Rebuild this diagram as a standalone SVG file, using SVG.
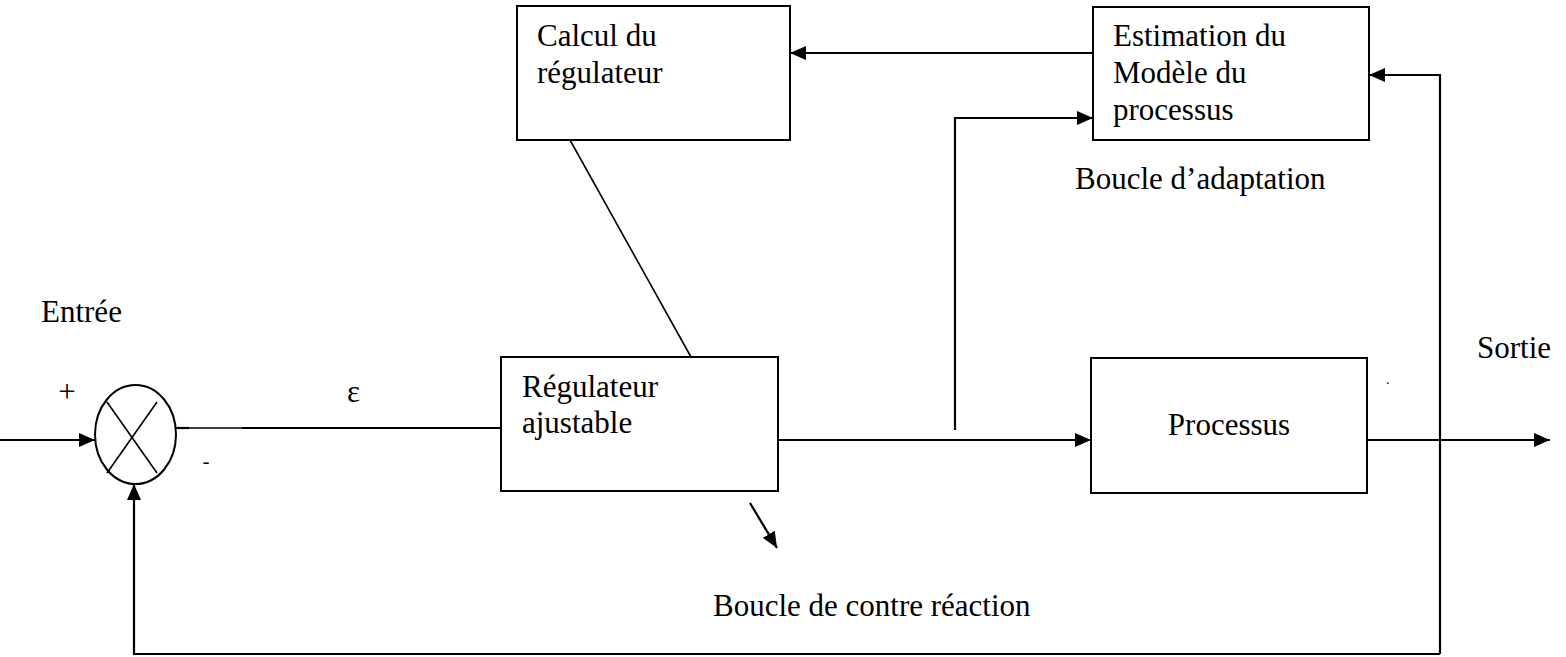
<svg xmlns="http://www.w3.org/2000/svg" width="1566" height="657" viewBox="0 0 1566 657">
  <style>
    .box { fill: #ffffff; stroke: #000000; stroke-width: 2; }
    .wire { fill: none; stroke: #000000; stroke-width: 2.2; }
    .thin { fill: none; stroke: #000000; stroke-width: 1.6; }
    .lbl { font-family: "Liberation Serif", "Times New Roman", serif; font-size: 31px; fill: #000000; }
  </style>
  <defs>
    <marker id="arrow" viewBox="0 0 16 14" refX="16" refY="7" markerWidth="16" markerHeight="14" markerUnits="userSpaceOnUse" orient="auto">
      <path d="M0,0 L16,7 L0,14 Z" fill="#000000"/>
    </marker>
  </defs>

  <rect width="1566" height="657" fill="#ffffff"/>

  <!-- connectors -->
  <g id="connectors">
    <!-- input into the summing junction -->
    <line class="wire" x1="0" y1="440" x2="95" y2="440" marker-end="url(#arrow)"/>
    <!-- error signal to the adjustable controller -->
    <line class="thin" x1="176" y1="428" x2="501" y2="428"/>
    <line class="wire" x1="176" y1="428" x2="189" y2="428"/>
    <line class="wire" x1="242" y1="428" x2="501" y2="428"/>
    <!-- controller output to the process -->
    <line class="wire" x1="778" y1="440" x2="1091" y2="440" marker-end="url(#arrow)"/>
    <!-- process output -->
    <line class="wire" x1="1367" y1="440" x2="1550" y2="440" marker-end="url(#arrow)"/>
    <!-- control signal tapped to the model estimator -->
    <polyline class="wire" points="955,430 955,118 1093,118" marker-end="url(#arrow)"/>
    <!-- estimator to controller design -->
    <line class="wire" x1="1093" y1="53" x2="790" y2="53" marker-end="url(#arrow)"/>
    <!-- output fed back to estimator -->
    <polyline class="wire" points="1440,654 1440,75 1369,75" marker-end="url(#arrow)"/>
    <!-- negative feedback to the summing junction -->
    <polyline class="wire" points="1440,654 134,654 134,484" marker-end="url(#arrow)"/>
    <!-- controller parameters link -->
    <line class="thin" x1="570" y1="140" x2="691" y2="357"/>
    <!-- feedback-loop pointer -->
    <line class="wire" x1="750" y1="503" x2="777" y2="548" marker-end="url(#arrow)"/>
  </g>

  <!-- summing junction -->
  <g id="sum">
    <ellipse cx="135.5" cy="434.5" rx="40.5" ry="49.5" fill="#ffffff" stroke="#000000" stroke-width="2"/>
    <line class="thin" x1="107" y1="402" x2="157" y2="473"/>
    <line class="thin" x1="157" y1="402" x2="107" y2="473"/>
    <text class="lbl" x="67" y="402" text-anchor="middle">+</text>
    <text class="lbl" x="206" y="468" text-anchor="middle" style="font-size:20px">-</text>
  </g>

  <g id="calcul">
    <rect class="box" x="517" y="6" width="273" height="134"/>
    <text class="lbl" x="537" y="46">Calcul du</text>
    <text class="lbl" x="537" y="83">régulateur</text>
  </g>

  <g id="estimation">
    <rect class="box" x="1093" y="7" width="276" height="133"/>
    <text class="lbl" x="1113" y="46">Estimation du</text>
    <text class="lbl" x="1113" y="83">Modèle du</text>
    <text class="lbl" x="1113" y="120">processus</text>
  </g>

  <g id="regulateur">
    <rect class="box" x="501" y="357" width="277" height="134"/>
    <text class="lbl" x="522" y="397">Régulateur</text>
    <text class="lbl" x="522" y="433">ajustable</text>
  </g>

  <g id="processus">
    <rect class="box" x="1091" y="358" width="276" height="135"/>
    <text class="lbl" x="1229" y="435" text-anchor="middle">Processus</text>
  </g>

  <!-- free labels -->
  <g id="labels">
    <text class="lbl" x="41" y="322">Entrée</text>
    <text class="lbl" x="347" y="402">ε</text>
    <text class="lbl" x="1477" y="358">Sortie</text>
    <text class="lbl" x="1386" y="384" style="font-size:14px">.</text>
    <text class="lbl" x="1075" y="189">Boucle d’adaptation</text>
    <text class="lbl" x="713" y="616">Boucle de contre réaction</text>
  </g>
</svg>
